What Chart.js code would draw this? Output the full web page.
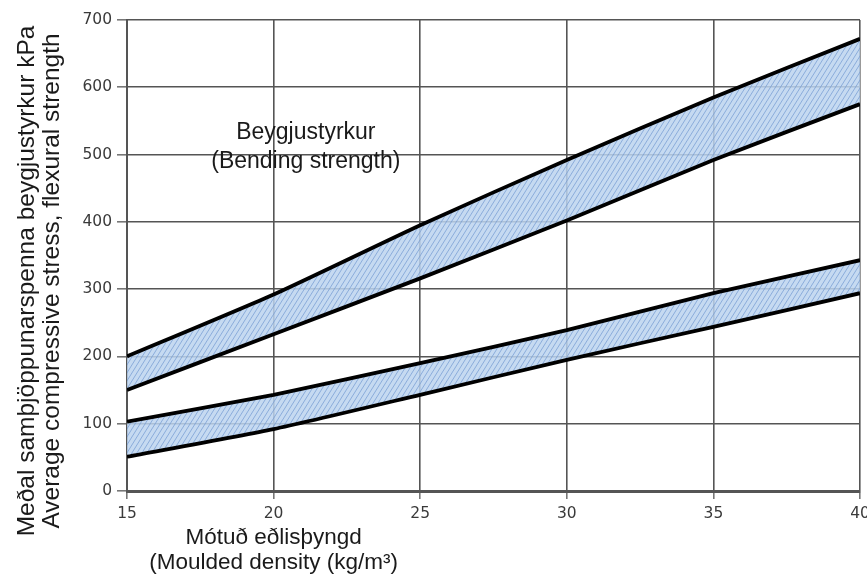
<!DOCTYPE html>
<html>
<head>
<meta charset="utf-8">
<script src="https://cdn.jsdelivr.net/npm/chart.js@4/dist/chart.umd.min.js"></script>
<style>
html,body{margin:0;padding:0;background:#fff;}
#wrap{width:867px;height:576px;}
</style>
</head>
<body>
<div id="wrap"><canvas id="c" width="867" height="576"></canvas></div>
<script>
// Data
const density = [15, 20, 25, 30, 35, 40];
const bendUpper = [200, 292, 395, 492, 585, 672];
const bendLower = [150, 233, 316, 402, 492, 575];
const compUpper = [103, 143, 190, 239, 294, 343];
const compLower = [51, 92, 143, 195, 244, 294];
const yTicks = [0, 100, 200, 300, 400, 500, 600, 700];
const xTicks = [15, 20, 25, 30, 35, 40];
const yTitle = ['Meðal samþjöppunarspenna beygjustyrkur kPa', 'Average compressive stress, flexural strength'];
const xTitle = ['Mótuð eðlisþyngd', '(Moulded density (kg/m³)'];
const bandLabel = ['Beygjustyrkur', '(Bending strength)'];

const FONT = '"Liberation Sans", Arial, sans-serif';

function hatch() {
  const w = 5, h = 8;
  const c = document.createElement('canvas');
  c.width = w; c.height = h;
  const g = c.getContext('2d');
  g.fillStyle = 'rgba(188,212,238,0.85)';
  g.fillRect(0, 0, w, h);
  g.strokeStyle = 'rgba(115,155,210,0.8)';
  g.lineWidth = 0.9;
  g.beginPath();
  g.moveTo(0, h); g.lineTo(w, 0);
  g.moveTo(-w, h); g.lineTo(0, 0);
  g.moveTo(w, h); g.lineTo(2 * w, 0);
  g.stroke();
  return g.createPattern(c, 'repeat');
}
const pat = hatch();
const pts = arr => density.map((d, i) => ({x: d, y: arr[i]}));
const lineStyle = {borderColor: '#000', borderWidth: 3.8, pointRadius: 0, tension: 0.2, backgroundColor: pat};

const textPlugin = {
  id: 'texts',
  afterDraw(chart) {
    const ctx = chart.ctx;
    const xs = chart.scales.x, ys = chart.scales.y;
    ctx.save();
    ctx.fillStyle = '#1a1a1a';
    ctx.textAlign = 'center';
    ctx.textBaseline = 'middle';
    ctx.font = '23px ' + FONT;
    const bx = xs.getPixelForValue(21.1);
    ctx.fillText(bandLabel[0], bx, ys.getPixelForValue(532));
    ctx.fillText(bandLabel[1], bx, ys.getPixelForValue(489));
    ctx.font = '22.5px ' + FONT;
    const tx = xs.getPixelForValue(20);
    ctx.fillText(xTitle[0], tx, 538);
    ctx.fillText(xTitle[1], tx, 563);
    ctx.font = '24.5px ' + FONT;
    ctx.translate(0, 281);
    ctx.rotate(-Math.PI / 2);
    ctx.fillText(yTitle[0], 0, 27);
    ctx.fillText(yTitle[1], 0, 52);
    ctx.restore();
  }
};

new Chart(document.getElementById('c'), {
  type: 'line',
  data: {
    datasets: [
      Object.assign({data: pts(bendUpper), fill: false}, lineStyle),
      Object.assign({data: pts(bendLower), fill: '-1'}, lineStyle),
      Object.assign({data: pts(compUpper), fill: false}, lineStyle),
      Object.assign({data: pts(compLower), fill: '-1'}, lineStyle)
    ]
  },
  options: {
    responsive: false,
    animation: false,
    layout: {padding: {top: 20, right: 7, left: 0, bottom: 0}},
    plugins: {legend: {display: false}, tooltip: {enabled: false}},
    scales: {
      x: {
        type: 'linear', min: 15, max: 40,
        afterBuildTicks: s => { s.ticks = xTicks.map(v => ({value: v})); },
        afterFit: s => { s.height = 85; s.paddingLeft = 0; s.paddingRight = 0; },
        grid: {color: '#555', lineWidth: 1.6, tickLength: 8, tickColor: '#777'},
        border: {color: '#555', width: 3},
        ticks: {color: '#3a3a3a', font: {size: 15.5, family: '"DejaVu Sans", sans-serif'}, padding: 6}
      },
      y: {
        min: 0, max: 700,
        afterBuildTicks: s => { s.ticks = yTicks.map(v => ({value: v})); },
        afterFit: s => { s.width = 127; s.paddingTop = 0; s.paddingBottom = 0; },
        grid: {color: '#555', lineWidth: 1.6, tickLength: 10, tickColor: '#777'},
        border: {color: '#555', width: 2},
        ticks: {color: '#3a3a3a', font: {size: 15.5, family: '"DejaVu Sans", sans-serif'}, padding: 5}
      }
    }
  },
  plugins: [textPlugin]
});
</script>
</body>
</html>
